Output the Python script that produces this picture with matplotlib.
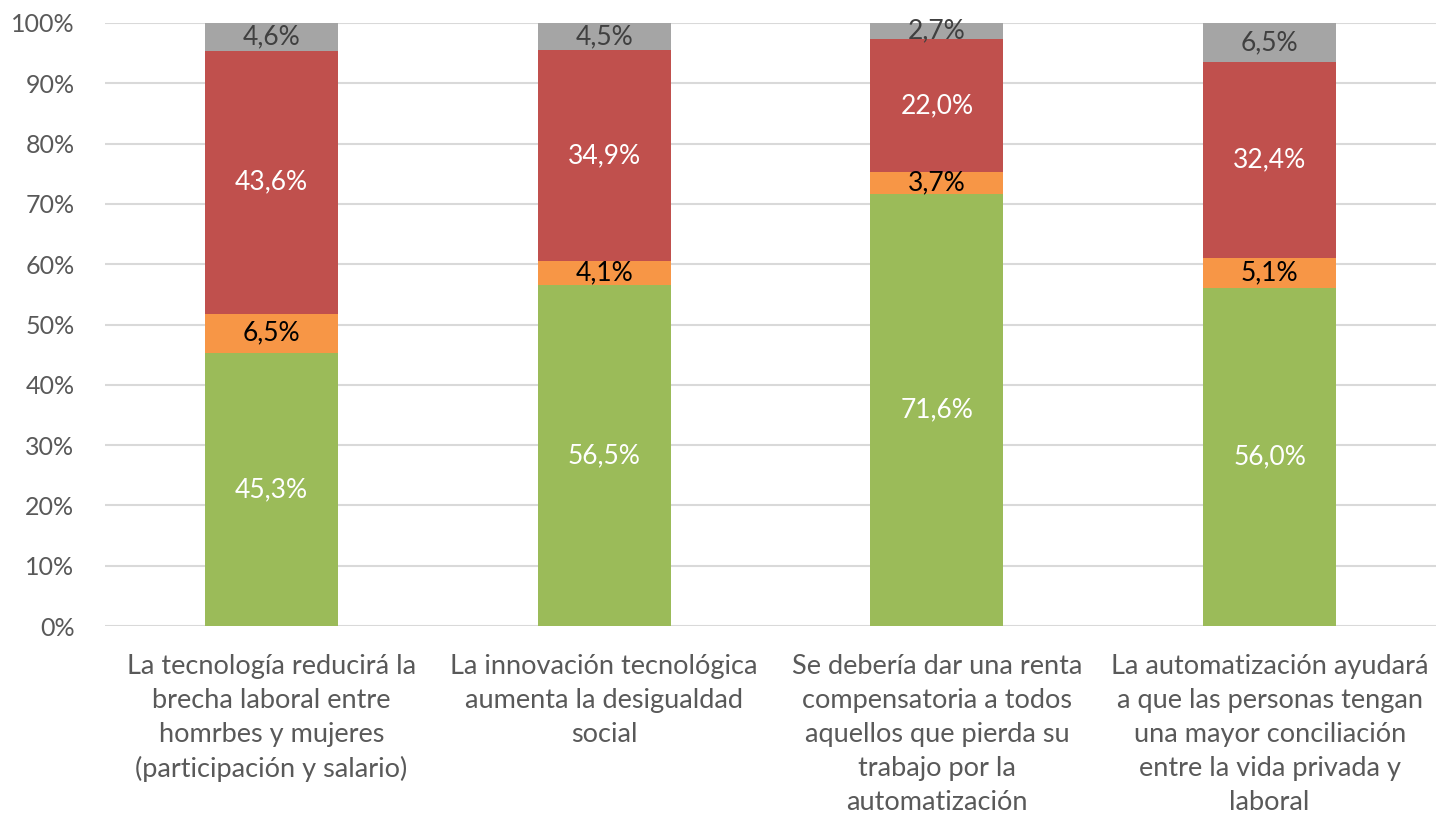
import matplotlib.pyplot as plt
import numpy as np

plt.rcParams['font.family'] = ['Lato', 'DejaVu Sans']

categories = [
    'La tecnología reducirá la\nbrecha laboral entre\nhomrbes y mujeres\n(participación y salario)',
    'La innovación tecnológica\naumenta la desigualdad\nsocial',
    'Se debería dar una renta\ncompensatoria a todos\naquellos que pierda su\ntrabajo por la\nautomatización',
    'La automatización ayudará\na que las personas tengan\nuna mayor conciliación\nentre la vida privada y\nlaboral',
]
green = [45.3, 56.5, 71.6, 56.0]
orange = [6.5, 4.1, 3.7, 5.1]
red = [43.6, 34.9, 22.0, 32.4]
gray = [4.6, 4.5, 2.7, 6.5]

series = [
    (green, '#9BBB59', 'white'),
    (orange, '#F79646', 'black'),
    (red, '#C0504D', 'white'),
    (gray, '#A5A5A5', '#404040'),
]

fig = plt.figure(figsize=(14.36, 8.17), dpi=100)
ax = fig.add_axes([105 / 1436, 1 - 626 / 817, 1331 / 1436, 603 / 817])

x = np.arange(len(categories))
bottom = np.zeros(len(categories))
for vals, color, tcolor in series:
    vals = np.array(vals)
    ax.bar(x, vals, 0.4, bottom=bottom, color=color, zorder=3)
    for xi, b, v in zip(x, bottom, vals):
        ax.text(xi, b + v / 2, f'{v:.1f}%'.replace('.', ','), ha='center',
                va='center', color=tcolor, fontsize=19, zorder=4)
    bottom += vals

ax.set_xlim(-0.5, len(categories) - 0.5)
ax.set_ylim(0, 100)
ax.set_yticks(np.arange(0, 101, 10))
ax.set_yticklabels([f'{v}%' for v in range(0, 101, 10)], fontsize=18, color='#595959')
ax.set_xticks(x)
ax.set_xticklabels(categories, fontsize=19.5, color='#595959', linespacing=1.45)
ax.tick_params(length=0)
ax.tick_params(axis='x', pad=20)
ax.tick_params(axis='y', pad=22)
ax.grid(axis='y', color='#D9D9D9', linewidth=1.5, zorder=0)
for s in ax.spines.values():
    s.set_visible(False)

fig.savefig('out.png', dpi=100)
